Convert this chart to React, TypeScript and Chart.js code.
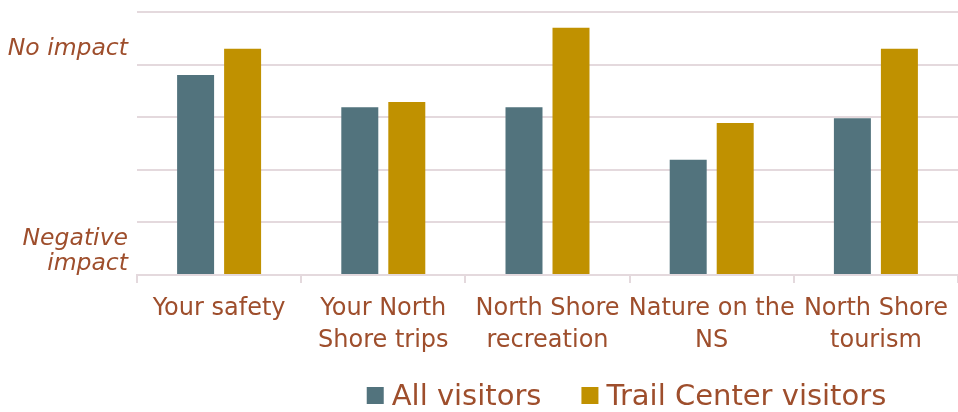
import React, { useEffect, useRef } from "react";
import { Chart, registerables } from "chart.js";

Chart.register(...registerables);

const categories: string[][] = [
  ["Your safety"],
  ["Your North", "Shore trips"],
  ["North Shore", "recreation"],
  ["Nature on the", "NS"],
  ["North Shore", "tourism"],
];
const seriesNames = ["All visitors", "Trail Center visitors"];
const allVisitors = [3.8, 3.19, 3.19, 2.19, 2.98];
const trailCenterVisitors = [4.3, 3.29, 4.7, 2.89, 4.3];
const yAxisLabels: string[][] = [["No impact"], ["Negative", "impact"]];
const yAxisLabelValues = [4.18, 0.57];

const FONT = "'DejaVu Sans', sans-serif";
const TEXT = "#9E4E2C";
const BLUE = "#52737D";
const GOLD = "#C09100";
const GRID = "#E4D9DD";

const customText = {
  id: "customText",
  afterDraw(chart: any) {
    const ctx = chart.ctx;
    const y = chart.scales.y;
    const area = chart.chartArea;
    ctx.save();
    // y-axis descriptive labels
    ctx.font = `italic 23.5px ${FONT}`;
    ctx.fillStyle = TEXT;
    ctx.textAlign = "right";
    ctx.textBaseline = "alphabetic";
    yAxisLabels.forEach((lines, i) => {
      const base = y.getPixelForValue(yAxisLabelValues[i]);
      lines.forEach((ln, j) => {
        ctx.fillText(ln, area.left - 9, base + j * 25);
      });
    });
    // legend
    ctx.font = `29px ${FONT}`;
    ctx.textAlign = "left";
    const colors = [BLUE, GOLD];
    const box = 17;
    const gapBox = 8;
    const gapItem = 40;
    const widths = seriesNames.map((n) => ctx.measureText(n).width);
    const total = widths.reduce((a, w) => a + box + gapBox + w, 0) + gapItem;
    let x = (area.left + area.right) / 2 + 79 - total / 2;
    const baseY = 405;
    seriesNames.forEach((n, i) => {
      ctx.fillStyle = colors[i];
      ctx.fillRect(x, baseY - box - 1, box, box);
      x += box + gapBox;
      ctx.fillStyle = TEXT;
      ctx.fillText(n, x, baseY);
      x += widths[i] + gapItem;
    });
    ctx.restore();
  },
};

export default function App() {
  const ref = useRef<HTMLCanvasElement>(null);
  useEffect(() => {
    if (!ref.current) return;
    const chart = new Chart(ref.current, {
      type: "bar",
      data: {
        labels: categories,
        datasets: [
          { label: seriesNames[0], data: allVisitors, backgroundColor: BLUE },
          { label: seriesNames[1], data: trailCenterVisitors, backgroundColor: GOLD },
        ],
      },
      options: {
        responsive: false,
        animation: false,
        layout: { padding: { top: 12, left: 0, right: 0, bottom: 0 } },
        datasets: {
          bar: { categoryPercentage: 0.5725, barPercentage: 0.787 },
        },
        plugins: {
          legend: { display: false },
          tooltip: { enabled: false },
        },
        scales: {
          x: {
            grid: {
              offset: true,
              drawOnChartArea: false,
              drawTicks: true,
              tickLength: 8,
              color: GRID,
              lineWidth: 2,
            },
            border: { display: true, color: GRID, width: 2 },
            ticks: {
              font: { family: FONT, size: 24, lineHeight: 1.33 },
              color: TEXT,
              autoSkip: false,
              maxRotation: 0,
              padding: 10,
            },
            afterFit(scale: any) {
              scale.height = 137;
              scale.paddingLeft = 0;
              scale.paddingRight = 0;
            },
          },
          y: {
            min: 0,
            max: 5,
            ticks: { display: false, stepSize: 1 },
            grid: { color: GRID, lineWidth: 2, drawTicks: false },
            border: { display: false },
            afterFit(scale: any) {
              scale.width = 137;
            },
          },
        },
      },
      plugins: [customText],
    });
    return () => chart.destroy();
  }, []);
  return (
    <div style={{ position: "absolute", left: 0, top: 0, width: 958, height: 412 }}>
      <canvas ref={ref} width={958} height={412} style={{ display: "block" }} />
    </div>
  );
}
